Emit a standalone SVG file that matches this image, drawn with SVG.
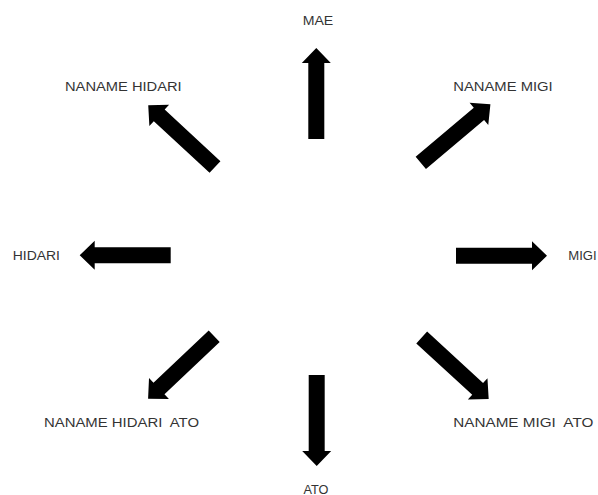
<svg xmlns="http://www.w3.org/2000/svg" width="598" height="495" viewBox="0 0 598 495">
<style>
.lbl{font-family:"Liberation Sans",Arial,sans-serif;font-size:12.5px;fill:#333;white-space:pre}
.arr{fill:#000}
</style>
<defs>
<path id="arrow" d="M0,-8 H76 V-14.5 L91,0 L76,14.5 V8 H0 Z"/>
</defs>
<rect width="598" height="495" fill="#fff"/>
<g id="connectors">
<use href="#arrow" class="arr" transform="translate(316.3,139) rotate(-90)"/>
<use href="#arrow" class="arr" transform="translate(316.7,375) rotate(90)"/>
<use href="#arrow" class="arr" transform="translate(170.7,255.3) rotate(180)"/>
<use href="#arrow" class="arr" transform="translate(456,255.8) rotate(0)"/>
<use href="#arrow" class="arr" transform="translate(215,167) rotate(-137.2)"/>
<use href="#arrow" class="arr" transform="translate(420.8,162.8) rotate(-40.1)"/>
<use href="#arrow" class="arr" transform="translate(214.2,336.3) rotate(136.6)"/>
<use href="#arrow" class="arr" transform="translate(421.7,337.5) rotate(42.6)"/>
</g>
<g id="mae"><text class="lbl" x="302.7" y="25" textLength="30.6" lengthAdjust="spacingAndGlyphs">MAE</text></g>
<g id="naname-hidari"><text class="lbl" x="65" y="91" textLength="116.7" lengthAdjust="spacingAndGlyphs">NANAME HIDARI</text></g>
<g id="naname-migi"><text class="lbl" x="453.3" y="90.5" textLength="99.4" lengthAdjust="spacingAndGlyphs">NANAME MIGI</text></g>
<g id="hidari"><text class="lbl" x="12.7" y="259.5" textLength="47.3" lengthAdjust="spacingAndGlyphs">HIDARI</text></g>
<g id="migi"><text class="lbl" x="568.3" y="259.5" textLength="28.4" lengthAdjust="spacingAndGlyphs">MIGI</text></g>
<g id="naname-hidari-ato"><text class="lbl" x="44" y="426.5" textLength="155" lengthAdjust="spacingAndGlyphs" xml:space="preserve">NANAME HIDARI  ATO</text></g>
<g id="naname-migi-ato"><text class="lbl" x="453.3" y="426.5" textLength="140" lengthAdjust="spacingAndGlyphs" xml:space="preserve">NANAME MIGI  ATO</text></g>
<g id="ato"><text class="lbl" x="303.5" y="493.5" textLength="25" lengthAdjust="spacingAndGlyphs">ATO</text></g>
</svg>
